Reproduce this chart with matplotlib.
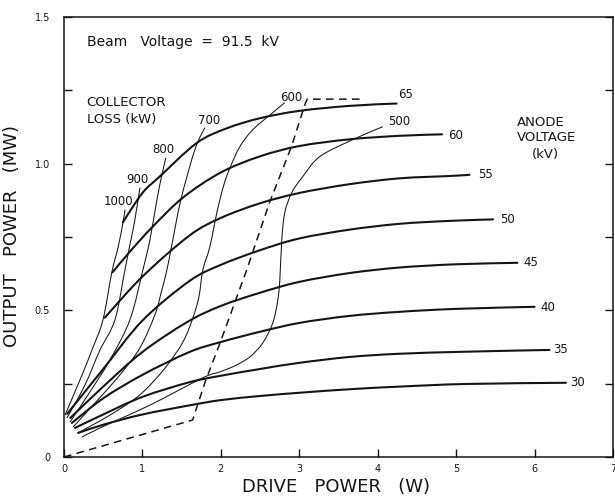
import numpy as np
import matplotlib
matplotlib.use("Agg")
import matplotlib.pyplot as plt
from matplotlib.path import Path
from matplotlib.patches import PathPatch

plt.rcParams['font.family'] = ['DejaVu Sans']

# ---- anode voltage curves (thick), drive power (W) vs output power (MW) ----
anode_kv = [30, 35, 40, 45, 50, 55, 60, 65]
anode_x = {
    30: [0.18, 0.5, 1.0, 1.6, 2.0, 2.5, 3.0, 3.64, 4.28, 5.13, 6.4],
    35: [0.14, 0.5, 1.0, 1.6, 2.0, 2.5, 3.0, 3.64, 4.28, 5.13, 6.19],
    40: [0.10, 0.5, 1.0, 1.6, 2.0, 2.5, 3.0, 3.64, 4.28, 5.0, 6.0],
    45: [0.08, 0.5, 1.0, 1.57, 2.0, 2.5, 3.0, 3.64, 4.28, 5.0, 5.78],
    50: [0.04, 0.5, 1.0, 1.6, 2.0, 2.5, 3.0, 3.64, 4.28, 4.92, 5.47],
    55: [0.52, 1.0, 1.6, 2.0, 2.5, 3.0, 3.64, 4.28, 4.92, 5.17],
    60: [0.62, 0.84, 1.13, 1.52, 2.0, 2.5, 3.0, 3.64, 4.28, 4.82],
    65: [0.75, 1.0, 1.22, 1.69, 2.07, 2.5, 3.0, 3.64, 4.24],
}
anode_y = {
    30: [0.082, 0.11, 0.145, 0.176, 0.194, 0.208, 0.219, 0.231, 0.240, 0.249, 0.253],
    35: [0.099, 0.145, 0.205, 0.255, 0.277, 0.30, 0.321, 0.341, 0.352, 0.359, 0.365],
    40: [0.116, 0.20, 0.28, 0.358, 0.392, 0.427, 0.457, 0.481, 0.495, 0.505, 0.512],
    45: [0.133, 0.24, 0.358, 0.46, 0.515, 0.56, 0.597, 0.627, 0.646, 0.657, 0.662],
    50: [0.147, 0.30, 0.465, 0.60, 0.655, 0.705, 0.745, 0.775, 0.795, 0.805, 0.81],
    55: [0.475, 0.615, 0.755, 0.815, 0.865, 0.90, 0.93, 0.95, 0.958, 0.962],
    60: [0.63, 0.70, 0.785, 0.885, 0.97, 1.025, 1.06, 1.083, 1.095, 1.10],
    65: [0.80, 0.90, 0.956, 1.07, 1.12, 1.155, 1.18, 1.197, 1.205],
}
anode_label_pos = {
    30: (6.55, 0.253), 35: (6.33, 0.365), 40: (6.17, 0.509), 45: (5.95, 0.662),
    50: (5.66, 0.809), 55: (5.38, 0.962), 60: (4.99, 1.096), 65: (4.36, 1.235),
}

# ---- collector loss curves (thin) ----
loss_kw = [500, 600, 700, 800, 900, 1000]
loss_x = {
    1000: [0.013, 0.204, 0.357, 0.497, 0.611, 0.688, 0.752, 0.777],
    900: [0.038, 0.268, 0.459, 0.650, 0.777, 0.841, 0.904, 0.968],
    800: [0.076, 0.331, 0.586, 0.841, 1.006, 1.096, 1.185, 1.248, 1.299],
    700: [0.115, 0.395, 0.713, 0.968, 1.159, 1.248, 1.312, 1.376, 1.49, 1.669, 1.796],
    600: [0.178, 0.586, 0.968, 1.287, 1.516, 1.643, 1.720, 1.771, 1.860, 1.949,
          2.035, 2.115, 2.242, 2.408, 2.662, 2.815],
    500: [0.229, 0.459, 1.096, 1.771, 1.987, 2.178, 2.369, 2.535, 2.662, 2.726,
          2.752, 2.777, 2.815, 2.904, 3.045, 3.261, 3.682, 4.064],
}
loss_y = {
    1000: [0.143, 0.263, 0.365, 0.468, 0.631, 0.713, 0.799, 0.843],
    900: [0.133, 0.246, 0.365, 0.468, 0.638, 0.724, 0.809, 0.918],
    800: [0.119, 0.222, 0.331, 0.468, 0.638, 0.741, 0.877, 0.962, 1.020],
    700: [0.102, 0.184, 0.280, 0.372, 0.485, 0.570, 0.638, 0.724, 0.877, 1.048, 1.123],
    600: [0.082, 0.143, 0.212, 0.303, 0.392, 0.474, 0.546, 0.638, 0.717, 0.833,
          0.925, 0.985, 1.058, 1.116, 1.174, 1.208],
    500: [0.068, 0.099, 0.177, 0.270, 0.290, 0.311, 0.341, 0.389, 0.457, 0.535,
          0.604, 0.741, 0.833, 0.901, 0.956, 1.024, 1.082, 1.126],
}
loss_label_pos = {
    1000: (0.69, 0.87), 900: (0.93, 0.945), 800: (1.27, 1.048),
    700: (1.85, 1.147), 600: (2.90, 1.225), 500: (4.28, 1.143),
}

# ---- dashed boundary ----
limit_x = [0.0, 1.64, 1.80, 1.99, 2.20, 2.33, 2.62, 2.90, 3.07, 3.10, 3.81]
limit_y = [0.0, 0.126, 0.256, 0.389, 0.543, 0.638, 0.867, 1.058, 1.20, 1.22, 1.22]

ink = '#151515'


def smooth_path(xs, ys):
    """Bezier path through the points (Catmull-Rom tangents)."""
    p = np.column_stack([xs, ys]).astype(float)
    ext = np.vstack([p[0], p, p[-1]])
    verts = [p[0]]
    codes = [Path.MOVETO]
    for i in range(len(p) - 1):
        p0, p1, p2, p3 = ext[i], ext[i + 1], ext[i + 2], ext[i + 3]
        verts += [p1 + (p2 - p0) / 6, p2 - (p3 - p1) / 6, p2]
        codes += [Path.CURVE4] * 3
    return Path(verts, codes)


fig = plt.figure(figsize=(6.15, 4.96), dpi=100)
ax = fig.add_axes([64 / 615, 39 / 496, 549 / 615, 440 / 496])

for kv in anode_kv:
    ax.add_patch(PathPatch(smooth_path(anode_x[kv], anode_y[kv]), fill=False,
                           ec=ink, lw=1.5, capstyle='round'))
    lx, ly = anode_label_pos[kv]
    ax.text(lx, ly, str(kv), fontsize=8.5, ha='center', va='center', color=ink)

for kw in loss_kw:
    ax.add_patch(PathPatch(smooth_path(loss_x[kw], loss_y[kw]), fill=False,
                           ec=ink, lw=0.75))
    lx, ly = loss_label_pos[kw]
    ax.text(lx, ly, str(kw), fontsize=8.5, ha='center', va='center', color=ink)

ax.plot(limit_x, limit_y, color=ink, lw=1.1, linestyle=(0, (5, 3.5)))

# annotations
ax.text(0.29, 1.416, 'Beam   Voltage  =  91.5  kV', fontsize=10, va='center', color=ink)
ax.text(0.29, 1.208, 'COLLECTOR', fontsize=9.5, va='center', color=ink)
ax.text(0.29, 1.150, 'LOSS (kW)', fontsize=9.5, va='center', color=ink)
ax.text(5.78, 1.140, 'ANODE', fontsize=9.5, va='center', color=ink)
ax.text(5.78, 1.089, 'VOLTAGE', fontsize=9.5, va='center', color=ink)
ax.text(6.14, 1.031, '(kV)', fontsize=9.5, va='center', ha='center', color=ink)

ax.set_xlim(0, 7)
ax.set_ylim(0, 1.5)
ax.set_xticks(range(0, 8))
ax.set_xticklabels([str(i) for i in range(0, 8)])
ax.set_yticks([0, 0.25, 0.5, 0.75, 1.0, 1.25, 1.5])
ax.set_yticklabels(['0', '', '0.5', '', '1.0', '', '1.5'])
ax.tick_params(axis='x', direction='in', length=6, width=1, labelsize=7, pad=5, colors=ink)
ax.tick_params(axis='y', direction='in', length=6, width=1, labelsize=7, pad=10,
               right=True, colors=ink)
for s in ax.spines.values():
    s.set_linewidth(1.1)
    s.set_color(ink)

fig.text(12 / 615, 1 - 236 / 496, 'OUTPUT   POWER   (MW)', rotation=90,
         fontsize=13, ha='center', va='center', color=ink)
fig.text(336 / 615, 1 - 487 / 496, 'DRIVE   POWER   (W)',
         fontsize=13, ha='center', va='center', color=ink)

fig.savefig('out.png', dpi=100)
